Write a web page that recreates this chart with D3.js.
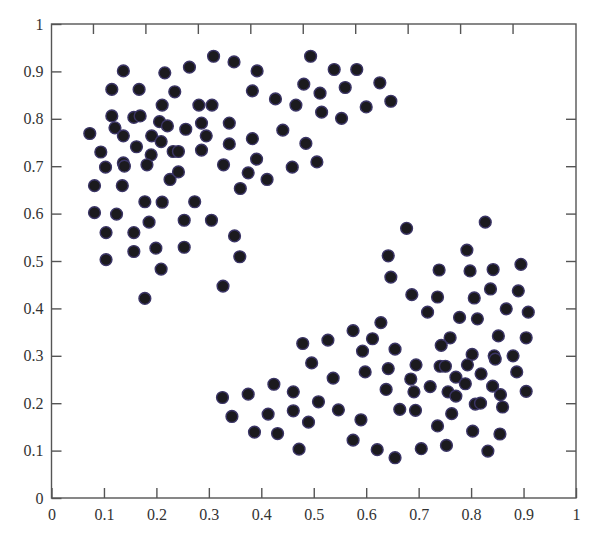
<!DOCTYPE html>
<html>
<head>
<meta charset="utf-8">
<script src="https://cdn.jsdelivr.net/npm/d3@7"></script>
<style>
  body { margin: 0; background: #fff; }
  .axis text { font-family: "Liberation Serif", "DejaVu Serif", serif; font-size: 16px; fill: #333; }
  .axis line { stroke: #555; stroke-width: 1.4; }
  .axis path { display: none; }
</style>
</head>
<body>
<script>
// upper-left cluster
var upperX = [0.137, 0.115, 0.167, 0.216, 0.263, 0.309, 0.348, 0.392, 0.235, 0.383,
  0.211, 0.281, 0.306, 0.115, 0.157, 0.169, 0.206, 0.221, 0.286, 0.339,
  0.121, 0.073, 0.137, 0.191, 0.256, 0.295, 0.383, 0.209, 0.339, 0.162,
  0.094, 0.190, 0.232, 0.242, 0.286, 0.391, 0.103, 0.137, 0.139, 0.182,
  0.328, 0.375, 0.226, 0.242, 0.082, 0.135, 0.360, 0.178, 0.211, 0.273,
  0.082, 0.124, 0.186, 0.253, 0.305, 0.104, 0.157, 0.349, 0.157, 0.199,
  0.253, 0.359, 0.104, 0.209, 0.327, 0.178, 0.494, 0.539, 0.582, 0.481,
  0.626, 0.512, 0.560, 0.427, 0.466, 0.515, 0.553, 0.600, 0.647, 0.441,
  0.485, 0.506, 0.459, 0.411];
var upperY = [0.901, 0.862, 0.862, 0.897, 0.909, 0.932, 0.920, 0.901, 0.857, 0.859,
  0.829, 0.829, 0.829, 0.806, 0.803, 0.806, 0.794, 0.785, 0.791, 0.791,
  0.781, 0.769, 0.764, 0.764, 0.778, 0.764, 0.758, 0.752, 0.747, 0.741,
  0.730, 0.724, 0.731, 0.731, 0.734, 0.715, 0.698, 0.707, 0.700, 0.703,
  0.703, 0.686, 0.672, 0.688, 0.659, 0.659, 0.653, 0.625, 0.624, 0.625,
  0.602, 0.599, 0.582, 0.586, 0.586, 0.560, 0.560, 0.553, 0.520, 0.527,
  0.529, 0.509, 0.503, 0.483, 0.447, 0.421, 0.932, 0.904, 0.904, 0.873,
  0.876, 0.854, 0.866, 0.842, 0.829, 0.814, 0.801, 0.825, 0.837, 0.776,
  0.748, 0.709, 0.698, 0.672];

// lower-right cluster
var lowerX = [0.677, 0.642, 0.647, 0.687, 0.739, 0.736, 0.717, 0.827, 0.792, 0.798,
  0.842, 0.895, 0.806, 0.837, 0.890, 0.778, 0.812, 0.867, 0.909, 0.760,
  0.852, 0.905, 0.743, 0.628, 0.575, 0.612, 0.479, 0.527, 0.593, 0.655,
  0.496, 0.598, 0.642, 0.537, 0.638, 0.424, 0.461, 0.375, 0.326, 0.509,
  0.547, 0.664, 0.344, 0.413, 0.461, 0.490, 0.590, 0.387, 0.431, 0.575,
  0.472, 0.621, 0.655, 0.802, 0.844, 0.846, 0.880, 0.695, 0.741, 0.751,
  0.793, 0.887, 0.685, 0.819, 0.771, 0.789, 0.841, 0.691, 0.722, 0.756,
  0.771, 0.856, 0.905, 0.694, 0.808, 0.818, 0.860, 0.763, 0.736, 0.803,
  0.855, 0.705, 0.753, 0.832];
var lowerY = [0.569, 0.511, 0.466, 0.429, 0.481, 0.424, 0.392, 0.582, 0.523, 0.479,
  0.482, 0.493, 0.422, 0.441, 0.437, 0.381, 0.378, 0.399, 0.392, 0.338,
  0.342, 0.338, 0.322, 0.370, 0.353, 0.336, 0.326, 0.333, 0.310, 0.314,
  0.285, 0.266, 0.273, 0.253, 0.229, 0.240, 0.224, 0.219, 0.212, 0.203,
  0.186, 0.187, 0.172, 0.177, 0.184, 0.160, 0.165, 0.139, 0.136, 0.122,
  0.103, 0.102, 0.085, 0.303, 0.300, 0.293, 0.300, 0.281, 0.278, 0.278,
  0.281, 0.266, 0.251, 0.262, 0.255, 0.241, 0.236, 0.224, 0.235, 0.224,
  0.215, 0.218, 0.225, 0.185, 0.198, 0.200, 0.192, 0.178, 0.152, 0.141,
  0.135, 0.104, 0.111, 0.099];

var tickValues = [0, 0.1, 0.2, 0.3, 0.4, 0.5, 0.6, 0.7, 0.8, 0.9, 1];
var innerTicks = [0.1, 0.2, 0.3, 0.4, 0.5, 0.6, 0.7, 0.8, 0.9];
var rightTicks = [0.1, 0.2, 0.3, 0.4, 0.5, 0.6, 0.7, 0.8];

var width = 600, height = 542;
var margin = { top: 24, right: 24, bottom: 44, left: 51.5 };

var svg = d3.select("body").append("svg")
    .attr("width", width)
    .attr("height", height);

var x = d3.scaleLinear().domain([0, 1]).range([margin.left, width - margin.right]);
var y = d3.scaleLinear().domain([0, 1]).range([height - margin.bottom, margin.top]);

// the top ticks in the original sit a bit left of the bottom ones
var topShift = 11;
var xTop = d3.scaleLinear().domain([0, 1]).range([margin.left - topShift, width - margin.right - topShift]);

var fmt = d3.format("~g");

svg.append("g")
    .attr("class", "axis")
    .attr("transform", "translate(0," + y(0) + ")")
    .call(d3.axisBottom(x).tickValues(tickValues).tickFormat(fmt).tickSize(-10).tickPadding(11));

svg.append("g")
    .attr("class", "axis")
    .attr("transform", "translate(" + x(0) + ",0)")
    .call(d3.axisLeft(y).tickValues(tickValues).tickFormat(fmt).tickSize(-10).tickPadding(8));

svg.append("g")
    .attr("class", "axis")
    .attr("transform", "translate(0," + y(1) + ")")
    .call(d3.axisTop(xTop).tickValues(innerTicks).tickFormat("").tickSize(-10));

svg.append("g")
    .attr("class", "axis")
    .attr("transform", "translate(" + x(1) + ",0)")
    .call(d3.axisRight(y).tickValues(rightTicks).tickFormat("").tickSize(-10));

// frame
svg.append("rect")
    .attr("x", x(0))
    .attr("y", y(1))
    .attr("width", x(1) - x(0))
    .attr("height", y(0) - y(1))
    .attr("fill", "none")
    .attr("stroke", "#555")
    .attr("stroke-width", 1.4);

var points = d3.zip(upperX, upperY).concat(d3.zip(lowerX, lowerY));

svg.append("g")
    .selectAll("circle")
    .data(points)
    .enter().append("circle")
    .attr("cx", function (d) { return x(d[0]); })
    .attr("cy", function (d) { return y(d[1]); })
    .attr("r", 5.9)
    .attr("fill", "#1b1a1e")
    .attr("stroke", "#3b3566")
    .attr("stroke-width", 1.4);
</script>
</body>
</html>
